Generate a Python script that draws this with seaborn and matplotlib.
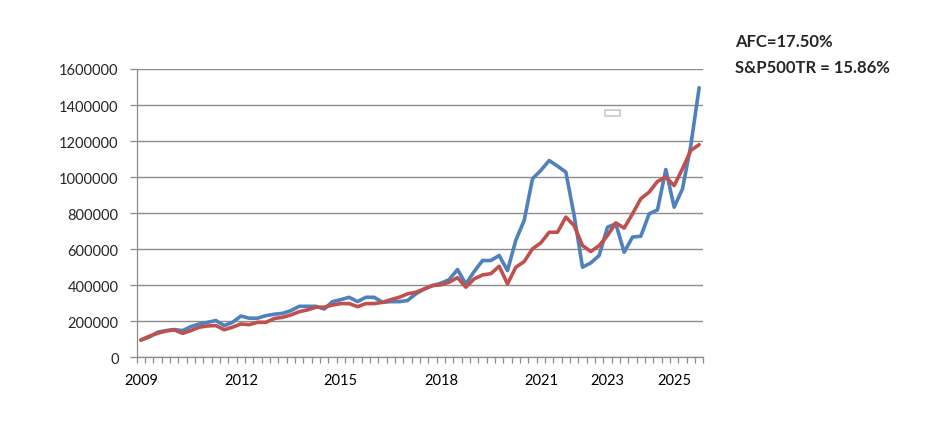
import numpy as np
import pandas as pd
import matplotlib
matplotlib.use("Agg")
import matplotlib.pyplot as plt
import seaborn as sns
from matplotlib.patches import Rectangle
from matplotlib.ticker import FixedLocator

# quarterly values, 2009 Q1 .. 2025 Q4
afc = [96000, 112000, 139000, 148000, 154000, 148000, 170000, 185000, 194000, 204000,
       176000, 194000, 229000, 217000, 217000, 231000, 239000, 244000, 259000, 283000,
       283000, 283000, 268000, 309000, 320000, 333000, 309000, 333000, 333000, 305000,
       309000, 309000, 315000, 352000, 379000, 398000, 411000, 431000, 487000, 407000,
       476000, 537000, 537000, 565000, 481000, 650000, 759000, 991000, 1037000, 1092000,
       1061000, 1028000, 787000, 500000, 524000, 565000, 722000, 741000, 583000, 667000,
       672000, 796000, 818000, 1042000, 833000, 935000, 1176000, 1496000]
sp500tr = [96000, 117000, 133000, 146000, 152000, 133000, 148000, 167000, 174000, 176000,
           153000, 167000, 185000, 181000, 194000, 194000, 215000, 222000, 235000, 253000,
           263000, 278000, 278000, 290000, 298000, 298000, 281000, 298000, 298000, 305000,
           320000, 333000, 352000, 361000, 379000, 398000, 402000, 417000, 442000, 389000,
           435000, 457000, 464000, 505000, 407000, 500000, 531000, 602000, 635000, 694000,
           694000, 778000, 731000, 620000, 587000, 620000, 676000, 746000, 717000, 796000,
           880000, 917000, 976000, 1000000, 953000, 1046000, 1148000, 1180000]
year_ticks = [0, 12, 24, 36, 48, 56, 64]
year_labels = ["2009", "2012", "2015", "2018", "2021", "2023", "2025"]
y_ticks = [0, 200000, 400000, 600000, 800000, 1000000, 1200000, 1400000, 1600000]

n = len(afc)
df = pd.DataFrame({
    "q": list(range(n)) * 2,
    "value": afc + sp500tr,
    "series": ["AFC"] * n + ["S&P500TR"] * n,
})

sns.set_style("white")
plt.rcParams["font.family"] = ["Lato", "DejaVu Sans"]

fig = plt.figure(figsize=(9.37, 4.27), dpi=100)
ax = fig.add_axes([0.1459, 0.1609, 0.6047, 0.6752])

sns.lineplot(data=df, x="q", y="value", hue="series",
             palette={"AFC": "#4F81BD", "S&P500TR": "#C0504D"},
             linewidth=2.6, legend=False, ax=ax)

ax.set_xlim(-0.5, n - 0.5)
ax.set_ylim(0, 1600000)
ax.set_yticks(y_ticks)
ax.set_yticklabels([str(v) for v in y_ticks])
ax.yaxis.grid(True, color="#8c8c8c", linewidth=1.0)
ax.set_axisbelow(True)

ax.set_xticks(year_ticks)
ax.set_xticklabels(year_labels)
ax.xaxis.set_minor_locator(FixedLocator(np.arange(-0.5, n, 1.0)))
ax.tick_params(axis="x", which="major", length=0, pad=11, labelsize=10.5, colors="black")
ax.tick_params(axis="x", which="minor", length=4, width=0.9, color="#8c8c8c", direction="out", bottom=True)
ax.tick_params(axis="y", which="major", length=5, width=0.9, color="#8c8c8c", pad=8,
               labelsize=10.5, left=True)

for side in ["top", "right"]:
    ax.spines[side].set_visible(False)
for side in ["left", "bottom"]:
    ax.spines[side].set_color("#8c8c8c")
    ax.spines[side].set_linewidth(0.9)

ax.set_xlabel("")
ax.set_ylabel("")

# empty legend box left over in the original
fig.patches.append(Rectangle((605 / 937, 1 - 117 / 427), 15 / 937, 6 / 427,
                             transform=fig.transFigure, fill=False,
                             edgecolor="#c8c8c8", linewidth=1.2))

fig.text(735 / 937, 1 - 42 / 427, "AFC=17.50%", fontsize=12, fontweight="bold",
         va="center", ha="left")
fig.text(735 / 937, 1 - 68 / 427, "S&P500TR = 15.86%", fontsize=12, fontweight="bold",
         va="center", ha="left")

fig.savefig("out.png", dpi=100)
